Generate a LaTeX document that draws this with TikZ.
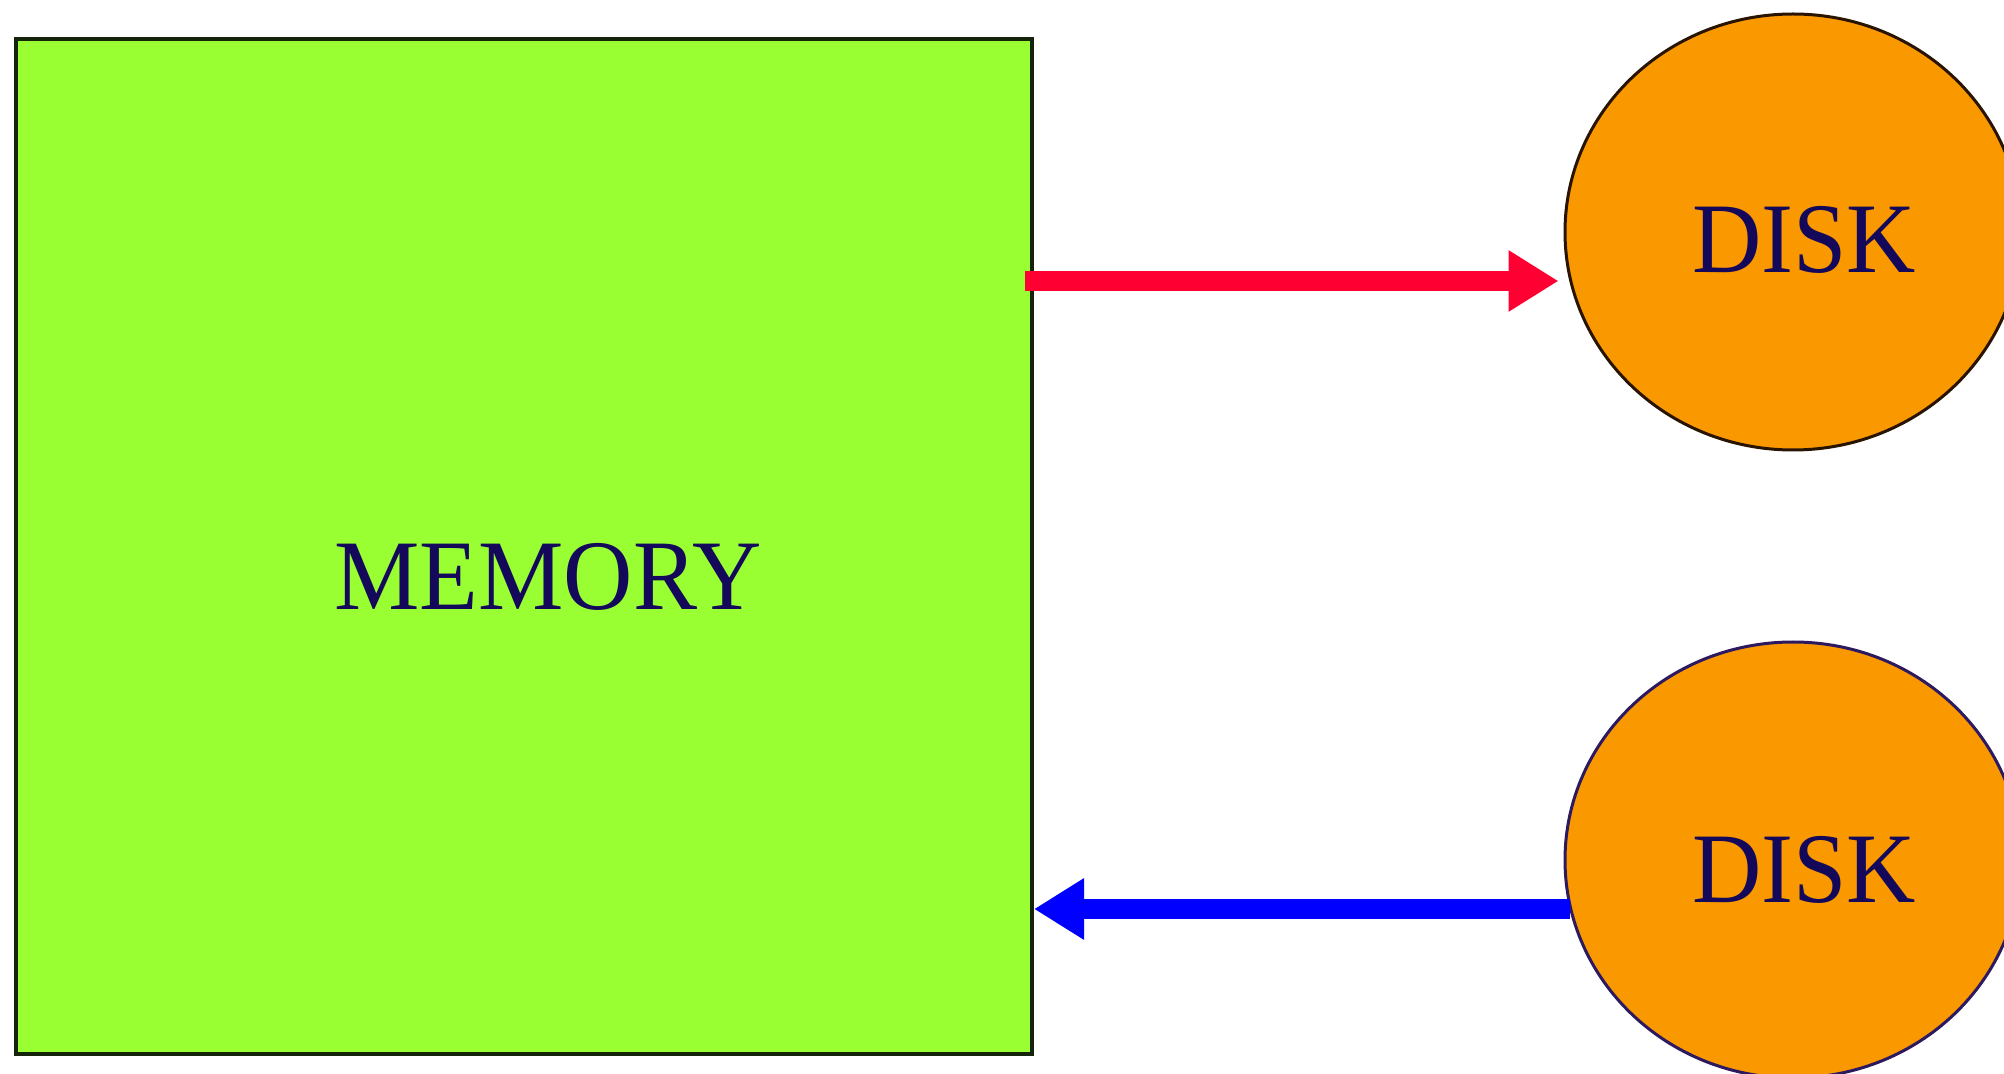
\documentclass[tikz,border=0pt]{standalone}
\usepackage{fontspec}
\setmainfont{Liberation Serif}
\usetikzlibrary{arrows.meta,shapes.geometric,calc}
\definecolor{memgreen}{RGB}{153,255,51}
\definecolor{diskorange}{RGB}{250,152,0}
\definecolor{arrred}{RGB}{255,0,51}
\definecolor{arrblue}{RGB}{0,0,255}
\definecolor{txtnavy}{RGB}{20,8,90}
\definecolor{memborder}{RGB}{20,35,10}
\definecolor{diskborderA}{RGB}{40,20,0}
\definecolor{diskborderB}{RGB}{45,25,95}
\tikzset{
  membox/.style={draw=memborder, line width=2pt, fill=memgreen, inner sep=0pt,
    minimum width=508pt, minimum height=507.5pt},
  diskshape/.style={ellipse, line width=1.5pt, fill=diskorange, inner sep=0pt,
    minimum width=228pt, minimum height=218pt},
  lbl/.style={text=txtnavy, inner sep=0pt, anchor=base, font=\fontsize{48pt}{48pt}\selectfont},
  conn/.style={line width=10pt, -{Triangle[length=25pt,width=29pt]}}
}
\begin{document}
\begin{tikzpicture}[x=0.5pt,y=-0.5pt]
\fill[white] (0,0) rectangle (2004,1074);
\useasboundingbox (0,0) rectangle (2004,1074);
\node[membox] (mem) at (524,546.5) {};
\node[diskshape, draw=diskborderA] (disk1) at (1793,232) {};
\node[diskshape, draw=diskborderB] (disk2) at (1793,860) {};
\node[lbl] (memtxt) at ([shift={(24,63.5)}]mem.center) {\scalebox{1}[1.04]{MEMORY}};
\node[lbl] (disk1txt) at ([shift={(11,41)}]disk1.center) {\scalebox{1}[1.04]{DISK}};
\node[lbl] (disk2txt) at ([shift={(11,42)}]disk2.center) {\scalebox{1}[1.04]{DISK}};
\coordinate (rs) at ([shift={(-9,49)}]mem.east |- disk1.center);
\coordinate (re) at ([shift={(-5,49)}]disk1.west);
\draw[conn, arrred] (rs) -- (re);
\coordinate (bs) at ([shift={(6,49)}]disk2.west);
\coordinate (be) at (mem.east |- bs);
\draw[conn, arrblue] (bs) -- (be);
\end{tikzpicture}
\end{document}
